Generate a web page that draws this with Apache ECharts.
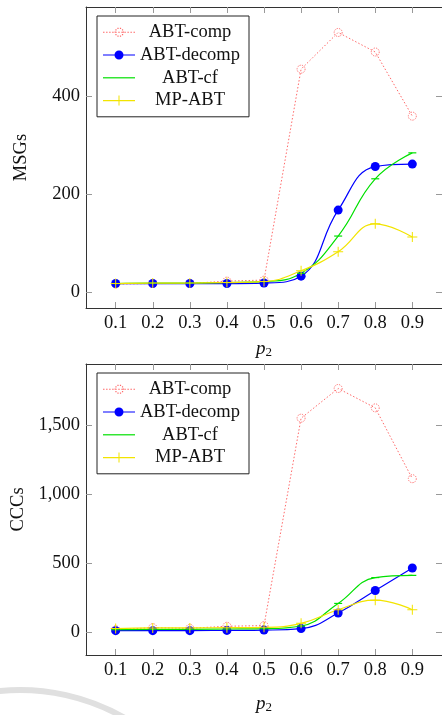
<!DOCTYPE html>
<html>
<head>
<meta charset="utf-8">
<script src="https://cdn.jsdelivr.net/npm/echarts@6/dist/echarts.min.js"></script>
<style>
  html, body { margin: 0; padding: 0; background: #fff; }
  #chart { width: 442px; height: 715px; }
</style>
</head>
<body>
<div id="chart"></div>
<script>
  // p2 values on the x axis
  var p2 = [0.1, 0.2, 0.3, 0.4, 0.5, 0.6, 0.7, 0.8, 0.9];

  // top panel: MSGs
  var msgComp   = [16, 17, 17, 22, 24, 455, 530, 490, 359];
  var msgDecomp = [17, 17, 17, 17, 18, 32, 167, 256, 261];
  var msgCf     = [17, 18, 18, 19, 21, 38, 114, 231, 284];
  var msgMp     = [17, 18, 18, 19, 21, 43, 82, 139, 112];
  var msgTicks  = [0, 200, 400];

  // bottom panel: CCCs
  var cccComp   = [15, 30, 25, 40, 45, 1553, 1769, 1628, 1113];
  var cccDecomp = [8, 8, 8, 10, 12, 23, 136, 300, 464];
  var cccCf     = [15, 18, 18, 20, 22, 42, 206, 394, 410];
  var cccMp     = [23, 28, 28, 30, 32, 61, 160, 230, 160];
  var cccTicks  = [0, 500, 1000, 1500];

  var names = ['ABT-comp', 'ABT-decomp', 'ABT-cf', 'MP-ABT'];
  var colors = ['#ff6a6a', '#0000ff', '#00e000', '#f2e400'];

  var serif = 'Liberation Serif';
  var chart = echarts.init(document.getElementById('chart'));

  function pairs(ys) {
    return p2.map(function (x, i) { return [x, ys[i]]; });
  }

  var plus = 'path://M0,9H20V11H0ZM9,0H11V20H9Z';

  // legend icons: line sample with the mark in the middle
  var lineBar = 'M0,6.4H32V7.6H0Z';
  var dottedIcon = (function () {
    var d = '';
    for (var x = 0; x <= 30; x += 3) d += 'M' + x + ',6.5h1.5v1h-1.5Z';
    for (var k = 0; k < 10; k++) {
      var a = k * Math.PI / 5;
      var cx = 16 + 4 * Math.cos(a) - 0.6, cy = 7 + 4 * Math.sin(a) - 0.6;
      d += 'M' + cx.toFixed(2) + ',' + cy.toFixed(2) + 'h1.2v1.2h-1.2Z';
    }
    return 'path://' + d;
  })();
  var icons = [
    dottedIcon,
    'path://' + lineBar + 'M11.5,7A4.5,4.5 0 1,1 20.5,7A4.5,4.5 0 1,1 11.5,7Z',
    'path://' + lineBar,
    'path://' + lineBar + 'M15.5,2H16.5V12H15.5Z'
  ];

  function makeSeries(idx, comp, decomp, cf, mp) {
    return [
      {
        name: names[0], type: 'line', xAxisIndex: idx * 2, yAxisIndex: idx * 2,
        data: pairs(comp), symbol: 'circle', symbolSize: 8,
        lineStyle: { color: colors[0], width: 1, type: [1.5, 2] },
        itemStyle: { color: 'rgba(255,255,255,0)', borderColor: colors[0], borderWidth: 1, borderType: [1.2, 1.2] }
      },
      {
        name: names[1], type: 'line', xAxisIndex: idx * 2, yAxisIndex: idx * 2,
        data: pairs(decomp), smooth: 0.45, symbol: 'circle', symbolSize: 9,
        lineStyle: { color: colors[1], width: 1.2 },
        itemStyle: { color: colors[1], borderWidth: 0 }
      },
      {
        name: names[2], type: 'line', xAxisIndex: idx * 2, yAxisIndex: idx * 2,
        data: pairs(cf), smooth: 0.45, symbol: 'rect', symbolSize: [8, 1.2],
        lineStyle: { color: colors[2], width: 1.2 },
        itemStyle: { color: colors[2], borderWidth: 0 }
      },
      {
        name: names[3], type: 'line', xAxisIndex: idx * 2, yAxisIndex: idx * 2,
        data: pairs(mp), smooth: 0.45, symbol: plus, symbolSize: 10,
        lineStyle: { color: colors[3], width: 1.2 },
        itemStyle: { color: colors[3], borderWidth: 0 }
      }
    ];
  }

  var tickStyle = { show: true, inside: true, length: 6, lineStyle: { color: '#999', width: 1 } };
  var lineStyle = { show: true, onZero: false, lineStyle: { color: '#333', width: 1 } };

  function xAxes(gi, nameGap) {
    return [
      {
        type: 'value', gridIndex: gi, position: 'bottom', min: 0.02, max: 0.98,
        name: '{p|p}{s|2}', nameLocation: 'middle', nameGap: nameGap,
        nameTextStyle: {
          rich: {
            p: { fontFamily: serif, fontStyle: 'italic', fontSize: 19, color: '#111' },
            s: { fontFamily: serif, fontSize: 13, color: '#111', verticalAlign: 'bottom', padding: [8, 0, 0, 0] }
          }
        },
        axisLine: lineStyle,
        axisTick: Object.assign({ customValues: p2 }, tickStyle),
        axisLabel: {
          customValues: p2, margin: 6, fontFamily: serif, fontSize: 18.5, color: '#111',
          formatter: function (v) { return v.toFixed(1); }
        },
        splitLine: { show: false }
      },
      {
        type: 'value', gridIndex: gi, position: 'top', min: 0.02, max: 0.98,
        axisLine: lineStyle,
        axisTick: Object.assign({ customValues: p2 }, tickStyle),
        axisLabel: { show: false },
        splitLine: { show: false }
      }
    ];
  }

  function yAxes(gi, min, max, ticks, name) {
    return [
      {
        type: 'value', gridIndex: gi, position: 'left', min: min, max: max,
        name: name, nameLocation: 'middle', nameGap: 55, nameRotate: 90,
        nameTextStyle: { fontFamily: serif, fontSize: 18.5, color: '#111' },
        axisLine: lineStyle,
        axisTick: Object.assign({ customValues: ticks }, tickStyle),
        axisLabel: {
          customValues: ticks, margin: 6, fontFamily: serif, fontSize: 18.5, color: '#111',
          formatter: function (v) { return v.toLocaleString('en-US'); }
        },
        splitLine: { show: false }
      },
      {
        type: 'value', gridIndex: gi, position: 'right', min: min, max: max,
        axisLine: lineStyle,
        axisTick: Object.assign({ customValues: ticks }, tickStyle),
        axisLabel: { show: false },
        splitLine: { show: false }
      }
    ];
  }

  function legend(top) {
    return {
      data: names.map(function (n, i) {
        return { name: n, icon: icons[i], itemStyle: { color: colors[i], borderWidth: 0, opacity: 1 } };
      }),
      orient: 'vertical', left: 97, top: top,
      itemWidth: 32, itemHeight: 14, itemGap: 3.8, padding: [6.7, 9, 6.7, 6],
      symbolKeepAspect: true,
      borderColor: '#222', borderWidth: 1, backgroundColor: '#fff',
      selectedMode: false,
      formatter: function (n) { return '{t|' + n + '}'; },
      textStyle: {
        rich: { t: { width: 100, align: 'center', fontFamily: serif, fontSize: 18.5, color: '#111' } }
      }
    };
  }

  var option = {
    animation: false,
    backgroundColor: '#fff',
    grid: [
      { left: 86, top: 7, width: 363, height: 301 },
      { left: 86, top: 364, width: 363, height: 301 }
    ],
    legend: [legend(16), legend(373)],
    xAxis: xAxes(0, 30).concat(xAxes(1, 38)),
    yAxis: yAxes(0, -33, 582, msgTicks, 'MSGs').concat(yAxes(1, -169, 1947, cccTicks, 'CCCs')),
    series: makeSeries(0, msgComp, msgDecomp, msgCf, msgMp)
      .concat(makeSeries(1, cccComp, cccDecomp, cccCf, cccMp)),
    graphic: [
      {
        type: 'arc', silent: true, z: -1,
        shape: { cx: 20, cy: 900, r: 210, startAngle: -1.75, endAngle: -0.95, clockwise: true },
        style: { stroke: '#e0e0e0', lineWidth: 6, fill: null }
      }
    ]
  };

  option && chart.setOption(option);
</script>
</body>
</html>
